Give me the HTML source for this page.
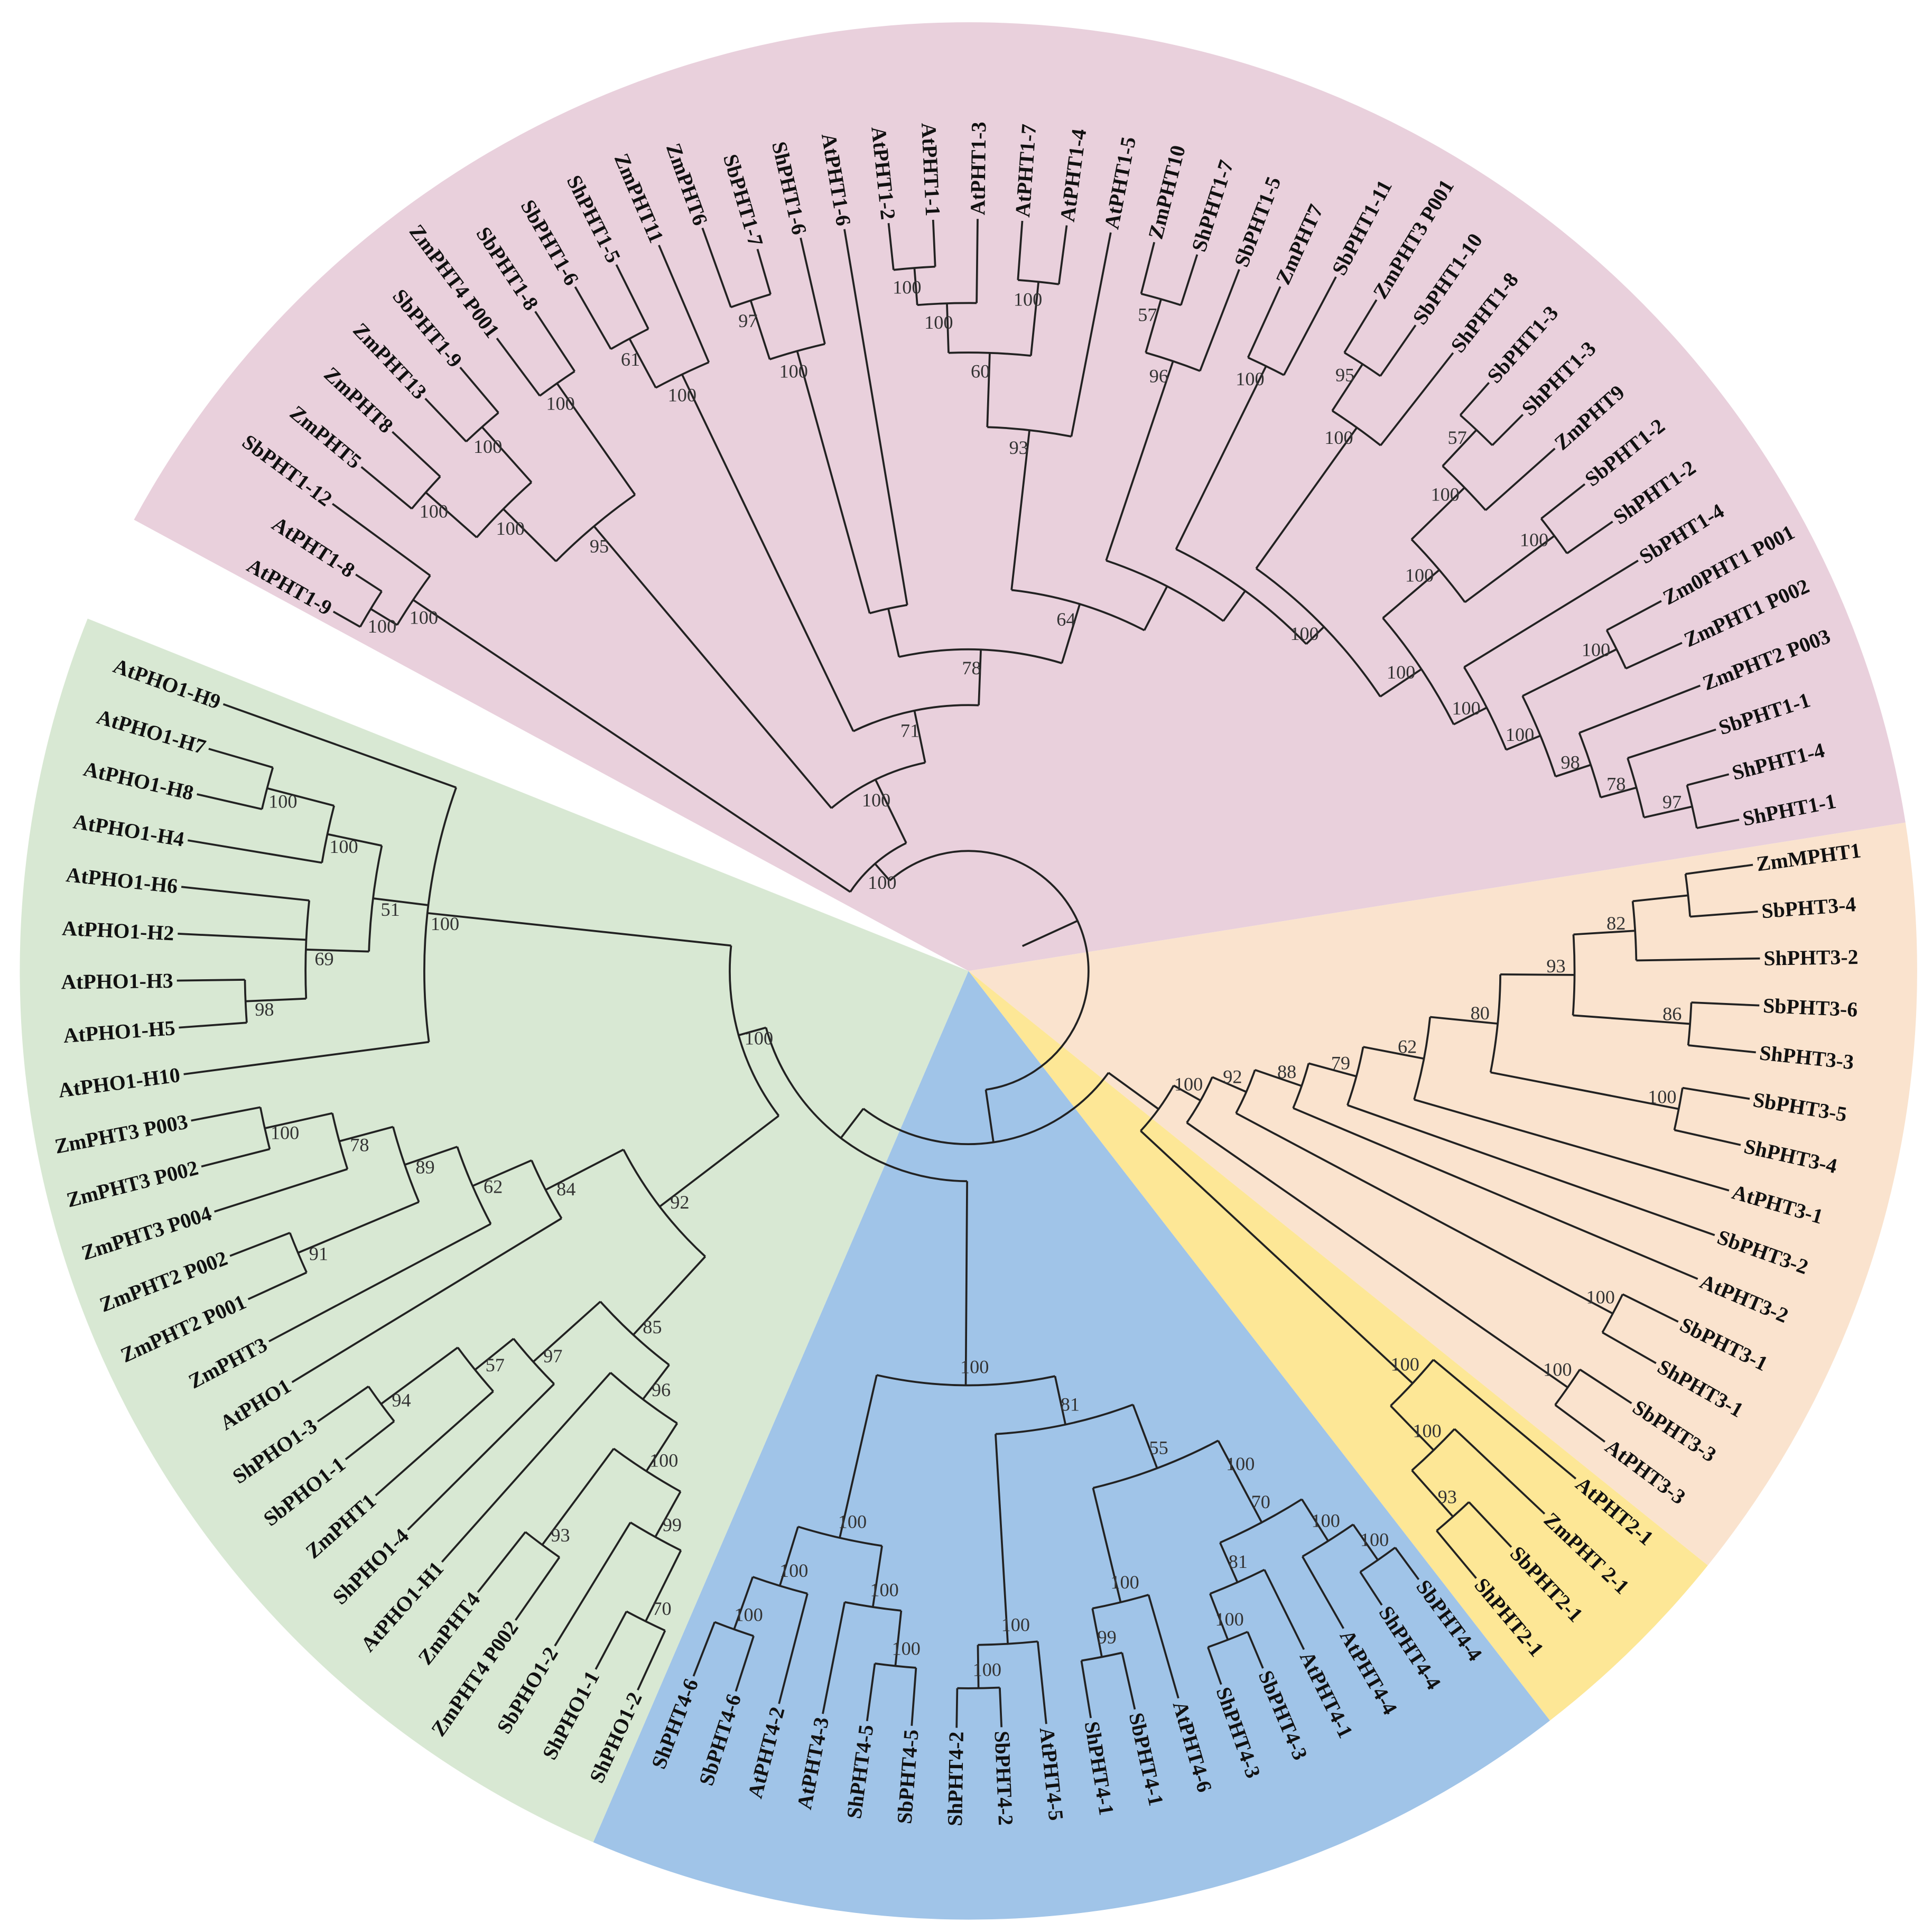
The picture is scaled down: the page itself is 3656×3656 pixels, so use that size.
<!DOCTYPE html>
<html><head><meta charset="utf-8"><style>
html,body{margin:0;padding:0;background:#fff}
svg{display:block}
.lf{font-family:"Liberation Serif",serif;font-weight:bold;font-size:17px;fill:#111}
.bs{font-family:"Liberation Serif",serif;font-size:15.5px;fill:#333}
</style></head><body>
<svg id="s" xmlns="http://www.w3.org/2000/svg" width="3656" height="3656" viewBox="0 0 1562 1562">
<g id="bg"></g><g id="tr" fill="none" stroke="#222" stroke-width="1.6"></g><g id="tx"></g>
</svg>
<script>
var CX=783,CY=785,NS="http://www.w3.org/2000/svg";
function P(r,a){var t=a*Math.PI/180;return [CX+r*Math.cos(t),CY+r*Math.sin(t)];}
function el(p,tag,at,txt){var e=document.createElementNS(NS,tag);for(var k in at)e.setAttribute(k,at[k]);if(txt!=null)e.textContent=txt;p.appendChild(e);return e;}
var bg=document.getElementById('bg'),tr=document.getElementById('tr'),tx=document.getElementById('tx');
function wedge(a1,a2,col){var R=767,p1=P(R,a1),p2=P(R,a2);var large=(a2-a1)>180?1:0;
el(bg,'path',{d:'M'+CX+','+CY+'L'+p1[0]+','+p1[1]+'A'+R+','+R+' 0 '+large+' 1 '+p2[0]+','+p2[1]+'Z',fill:col});}
wedge(208.4,351,'#e9d0dc');wedge(351,398.8,'#fae3ce');wedge(398.8,412.2,'#fde796');wedge(412.2,473.3,'#a0c4e8');wedge(473.3,561.8,'#d8e8d3');
var N=["AtPHT1-9","AtPHT1-8","SbPHT1-12","ZmPHT5","ZmPHT8","ZmPHT13","SbPHT1-9","ZmPHT4 P001","SbPHT1-8","SbPHT1-6","ShPHT1-5","ZmPHT11","ZmPHT6","SbPHT1-7","ShPHT1-6","AtPHT1-6","AtPHT1-2","AtPHT1-1","AtPHT1-3","AtPHT1-7","AtPHT1-4","AtPHT1-5","ZmPHT10","ShPHT1-7","SbPHT1-5","ZmPHT7","SbPHT1-11","ZmPHT3 P001","SbPHT1-10","ShPHT1-8","SbPHT1-3","ShPHT1-3","ZmPHT9","SbPHT1-2","ShPHT1-2","SbPHT1-4","Zm0PHT1 P001","ZmPHT1 P002","ZmPHT2 P003","SbPHT1-1","ShPHT1-4","ShPHT1-1",
"ZmMPHT1","SbPHT3-4","ShPHT3-2","SbPHT3-6","ShPHT3-3","SbPHT3-5","ShPHT3-4","AtPHT3-1","SbPHT3-2","AtPHT3-2","SbPHT3-1","ShPHT3-1","SbPHT3-3","AtPHT3-3",
"AtPHT2-1","ZmPHT 2-1","SbPHT2-1","ShPHT2-1",
"SbPHT4-4","ShPHT4-4","AtPHT4-4","AtPHT4-1","SbPHT4-3","ShPHT4-3","AtPHT4-6","SbPHT4-1","ShPHT4-1","AtPHT4-5","SbPHT4-2","ShPHT4-2","SbPHT4-5","ShPHT4-5","AtPHT4-3","AtPHT4-2","SbPHT4-6","ShPHT4-6",
"ShPHO1-2","ShPHO1-1","SbPHO1-2","ZmPHT4 P002","ZmPHT4","AtPHO1-H1","ShPHO1-4","ZmPHT1","SbPHO1-1","ShPHO1-3","AtPHO1","ZmPHT3","ZmPHT2 P001","ZmPHT2 P002","ZmPHT3 P004","ZmPHT3 P002","ZmPHT3 P003","AtPHO1-H10","AtPHO1-H5","AtPHO1-H3","AtPHO1-H2","AtPHO1-H6","AtPHO1-H4","AtPHO1-H8","AtPHO1-H7","AtPHO1-H9"];
function ang(i){return 209.5+3.4*i;}
function tip(i){if(i<2)return 590;if(i<13)return 638;if(i<26)return 608;if(i<42)return 635;if(i<60)return 640;if(i<78)return 612;return 640;}
var L={r:540,b:'100',c:[{r:565,b:'100',c:[0,1]},2]};
var M={r:470,b:'95',c:[{r:530,b:'100',c:[{r:585,b:'100',c:[3,4]},{r:590,b:'100',c:[5,6]}]},{r:580,b:'100',c:[7,8]}]};
var N1={r:535,b:'100',c:[{r:580,b:'61',c:[9,10]},11]};
var N2={r:520,b:'100',c:[{r:570,b:'97',c:[12,13]},14]};
var R={r:300,c:[N2,15]};
var G93={r:440,b:'93',c:[{r:500,b:'60',c:[{r:540,b:'100',c:[{r:570,b:'100',c:[16,17]},18]},{r:560,b:'100',c:[19,20]}]},21]};
var G96={r:520,b:'96',c:[{r:565,b:'57',c:[22,23]},24]};
var G100a={r:545,b:'100',c:[25,26]};
var Gr1={r:540,b:'100',c:[{r:585,b:'95',c:[27,28]},29]};
var Gr2={r:500,b:'100',c:[{r:560,b:'100',c:[{r:600,b:'57',c:[30,31]},32]},{r:590,b:'100',c:[33,34]}]};
var Gz={r:470,b:'100',c:[35,{r:500,b:'100',c:[{r:585,b:'100',c:[36,37]},{r:530,b:'98',c:[38,{r:560,b:'78',c:[39,{r:600,b:'97',c:[40,41]}]}]}]}]};
var right={r:400,b:'100',c:[Gr1,{r:440,b:'100',c:[Gr2,Gz]}]};
var U={r:380,c:[G100a,right]};
var T={r:350,c:[G96,U]};
var S={r:310,b:'64',c:[G93,T]};
var Q={r:260,b:'78',c:[R,S]};
var Y={r:215,b:'71',c:[N1,Q]};
var X={r:172,b:'100',c:[M,Y]};
var Pink={r:115,b:'100',c:[L,X]};
var O={r:215,b:'100',c:[{r:245,b:'92',c:[{r:285,b:'88',c:[{r:325,b:'79',c:[{r:375,b:'62',c:[{r:430,b:'80',c:[{r:490,b:'93',c:[{r:540,b:'82',c:[{r:585,c:[42,43]},44]},{r:585,b:'86',c:[45,46]}]},{r:585,b:'100',c:[47,48]}]},49]},50]},51]},{r:590,b:'100',c:[52,53]}]},{r:590,b:'100',c:[54,55]}]};
var Yel={r:490,b:'100',c:[56,{r:540,b:'100',c:[57,{r:590,b:'93',c:[58,59]}]}]};
var OY={r:190,c:[O,Yel]};
var Bleft={r:470,b:'100',c:[{r:520,b:'100',c:[{r:565,b:'100',c:[72,73]},74]},{r:520,b:'100',c:[75,{r:565,b:'100',c:[76,77]}]}]};
var B69={r:545,b:'100',c:[69,{r:580,b:'100',c:[70,71]}]};
var B70={r:470,b:'100',c:[{r:505,b:'70',c:[{r:545,b:'100',c:[{r:580,b:'100',c:[60,61]},62]},{r:540,b:'81',c:[63,{r:580,b:'100',c:[64,65]}]}]}]};
var B55={r:430,b:'55',c:[B70,{r:525,b:'100',c:[66,{r:565,b:'99',c:[67,68]}]}]};
var B81={r:375,b:'81',c:[B55,B69]};
var Blue={r:335,b:'100',c:[B81,Bleft]};
var Hg={r:440,b:'100',c:[95,{r:485,b:'51',c:[{r:536,b:'69',c:[{r:585,b:'98',c:[96,97]},98,99]},{r:530,b:'100',c:[100,{r:586,b:'100',c:[101,102]}]}]},103]};
var G84={r:385,b:'84',c:[88,{r:437,b:'62',c:[89,{r:482,b:'89',c:[{r:588,b:'91',c:[90,91]},{r:527,b:'78',c:[92,{r:583,b:'100',c:[93,94]}]}]}]}]};
var G85={r:400,b:'85',c:[{r:435,b:'96',c:[{r:481,b:'100',c:[{r:523,b:'99',c:[{r:587,b:'70',c:[78,79]},80]},{r:578,b:'93',c:[81,82]}]},83]},{r:473,b:'97',c:[84,{r:513,b:'57',c:[85,{r:590,b:'94',c:[86,87]}]}]}]};
var G92={r:314,b:'92',c:[G85,G84]};
var Green={r:193,b:'100',c:[G92,Hg]};
var Rest2={r:170,c:[Blue,Green]};
var Rest={r:140,c:[OY,Rest2]};
var Root={r:97,c:[Pink,Rest]};
function lay(n){if(typeof n==='number')return {a:ang(n),r:tip(n),leaf:n};
var ch=n.c.map(lay);var o={r:n.r,b:n.b,ch:ch,a:(ch[0].a+ch[ch.length-1].a)/2};return o;}
function line(r1,r2,a){var p=P(r1,a),q=P(r2,a);el(tr,'path',{d:'M'+p[0].toFixed(1)+','+p[1].toFixed(1)+'L'+q[0].toFixed(1)+','+q[1].toFixed(1)});}
function arc(r,a1,a2){if(a2-a1<0.01)return;var p=P(r,a1),q=P(r,a2);el(tr,'path',{d:'M'+p[0].toFixed(1)+','+p[1].toFixed(1)+'A'+r+','+r+' 0 '+((a2-a1)>180?1:0)+' 1 '+q[0].toFixed(1)+','+q[1].toFixed(1)});}
function draw(n,pr){line(pr,n.r,n.a);
if(n.leaf!=null){var a=n.a%360;var p=P(n.r+3,n.a);var flip=(a>90&&a<270);
var rot=flip?a+180:a;el(tx,'text',{'class':'lf',x:p[0].toFixed(1),y:p[1].toFixed(1),'text-anchor':flip?'end':'start','dominant-baseline':'central',transform:'rotate('+rot.toFixed(2)+' '+p[0].toFixed(1)+' '+p[1].toFixed(1)+')'},N[n.leaf]);return;}
arc(n.r,n.ch[0].a,n.ch[n.ch.length-1].a);
if(n.b){var q=P(n.r-15,n.a-Math.min(3.2,420/n.r));el(tx,'text',{'class':'bs',x:q[0].toFixed(1),y:q[1].toFixed(1),'text-anchor':'middle','dominant-baseline':'central'},n.b);}
n.ch.forEach(function(c){draw(c,n.r);});}
var root=lay(Root);draw(root,48);
</script>
</body></html>
